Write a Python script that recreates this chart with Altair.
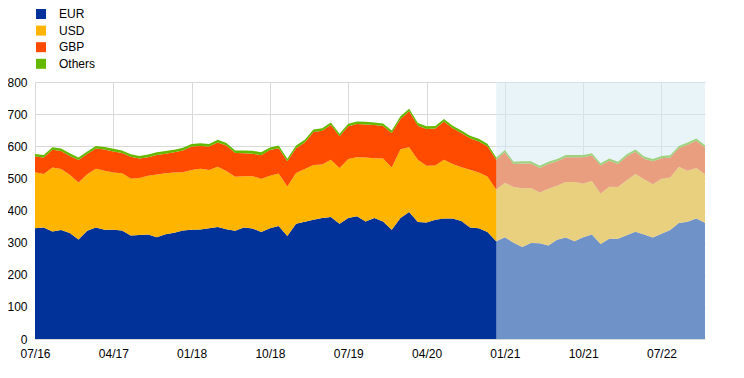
import altair as alt
import pandas as pd

tick_labels = ["07/16", "04/17", "01/18", "10/18", "07/19", "04/20", "01/21", "10/21", "07/22"]
currencies = ["EUR", "USD", "GBP", "Others"]
colors = ["#003299", "#FFB400", "#FF4B00", "#65B800"]

# monthly values, 07/2016 .. 12/2022 (index 0..77)
eur = [345, 347, 335, 339, 330, 310, 337, 347, 340, 340, 338, 322, 324, 325, 317, 326,
       331, 338, 340, 341, 345, 349, 342, 337, 347, 344, 333, 345, 352, 321, 359, 365,
       371, 377, 380, 359, 377, 382, 366, 377, 366, 340, 377, 395, 364, 363, 371, 375,
       375, 367, 347, 345, 333, 304, 317, 300, 286, 299, 298, 291, 309, 316, 304, 317,
       325, 296, 312, 312, 323, 334, 325, 316, 328, 339, 361, 365, 375, 362]
usd = [174, 167, 199, 190, 181, 177, 176, 183, 184, 178, 178, 178, 177, 183, 195, 190,
       187, 181, 186, 189, 181, 187, 181, 168, 160, 163, 166, 163, 163, 154, 158, 164,
       171, 166, 178, 173, 183, 184, 199, 186, 196, 194, 214, 202, 194, 176, 169, 183,
       170, 168, 180, 173, 173, 161, 169, 173, 183, 171, 158, 177, 168, 173, 185, 167,
       167, 157, 162, 161, 171, 180, 172, 166, 171, 164, 175, 159, 157, 151]
gbp = [49, 51, 55, 56, 59, 70, 63, 63, 66, 66, 63, 67, 61, 58, 61, 61,
       63, 68, 73, 71, 73, 76, 79, 74, 71, 70, 73, 80, 79, 78, 77, 83,
       102, 105, 108, 99, 102, 103, 103, 103, 101, 107, 94, 112, 106, 115, 115, 119,
       111, 106, 98, 97, 94, 93, 95, 72, 77, 76, 76, 77, 76, 77, 77, 82,
       79, 87, 81, 72, 74, 69, 64, 71, 64, 62, 58, 81, 85, 83]
others = [8, 8, 8, 8, 8, 8, 8, 8, 8, 8, 8, 8, 8, 8, 8, 8,
          8, 8, 8, 8, 8, 8, 8, 8, 9, 9, 9, 8, 8, 8, 8, 8,
          8, 8, 8, 8, 8, 8, 8, 8, 8, 8, 8, 8, 8, 8, 8, 8,
          8, 8, 8, 8, 8, 7, 7, 7, 7, 7, 7, 7, 7, 7, 7, 7,
          7, 7, 7, 7, 7, 7, 7, 7, 7, 7, 7, 7, 7, 7]

shade_start = [53]
shade_end = [77]

rows = []
for k, (name, vals) in enumerate(zip(currencies, [eur, usd, gbp, others])):
    for i, v in enumerate(vals):
        rows.append({"m": i, "cur": name, "v": v, "k": k})
df = pd.DataFrame(rows)

label_expr = "[" + ",".join("'%s'" % t for t in tick_labels) + "][round(datum.value/9)]"
FONT = "Liberation Sans"
W, H = 670, 257

area = alt.Chart(df).mark_area(interpolate="linear").encode(
    x=alt.X("m:Q",
            scale=alt.Scale(domain=[0, 77], nice=False, zero=False),
            axis=alt.Axis(values=list(range(0, 73, 9)), labelExpr=label_expr, title=None,
                          grid=True, ticks=False, domain=False, labelPadding=9,
                          labelFontSize=12, labelColor="#000000", labelFont=FONT,
                          gridColor="#D9D9D9", labelFlush=False)),
    y=alt.Y("v:Q", stack="zero",
            scale=alt.Scale(domain=[0, 800], nice=False),
            axis=alt.Axis(values=list(range(0, 801, 100)), title=None, grid=True,
                          ticks=False, domain=False, labelPadding=8, labelFontSize=12,
                          labelColor="#000000", labelFont=FONT, gridColor="#D9D9D9")),
    color=alt.Color("cur:N",
                    scale=alt.Scale(domain=currencies, range=colors),
                    legend=alt.Legend(title=None, orient="none", legendX=0, legendY=-74,
                                      direction="vertical", symbolType="square",
                                      symbolSize=100, symbolStrokeWidth=0, symbolOpacity=1,
                                      labelFontSize=12, labelFont=FONT, labelColor="#000000",
                                      labelOffset=12, rowPadding=4.6, padding=0)),
    order=alt.Order("k:Q", sort="ascending"),
)

shade = alt.Chart(pd.DataFrame({"s": shade_start, "e": shade_end})).mark_rect(
    color="#D5EAF3", opacity=0.52
).encode(
    x=alt.X("s:Q", title=None),
    x2="e:Q",
    y=alt.value(0),
    y2=alt.value(H),
)

chart = alt.layer(area, shade).properties(
    width=W, height=H,
    autosize=alt.AutoSizeParams(type="none"),
    padding={"left": 27, "top": 74, "right": 31, "bottom": 31},
    background="#FFFFFF",
).configure_view(stroke=None)

chart.save("out.html", embed_options={"renderer": "svg", "actions": False})
